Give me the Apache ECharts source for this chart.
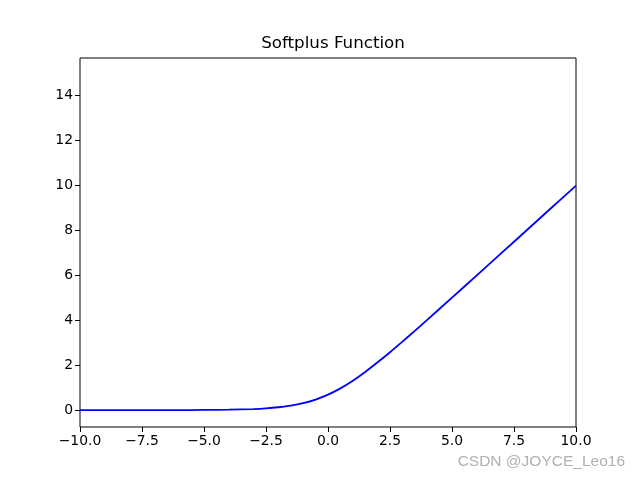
<!DOCTYPE html>
<html>
<head>
<meta charset="utf-8">
<script src="https://cdn.jsdelivr.net/npm/echarts@6/dist/echarts.min.js"></script>
<style>
  html, body { margin: 0; padding: 0; background: #fff; }
  #chart { width: 640px; height: 480px; }
</style>
</head>
<body>
<div id="chart"></div>
<script>
// values
const xs = [-10, -9, -8, -7, -6, -5, -4, -3, -2.5, -2, -1.5, -1, -0.5, 0, 0.5, 1, 1.5, 2, 2.5, 3, 3.5, 4, 5, 6, 7, 8, 9, 10]
const ys = [0.00, 0.00, 0.00, 0.00, 0.00, 0.01, 0.02, 0.05, 0.08, 0.13, 0.20, 0.31, 0.47, 0.69, 0.97, 1.31, 1.70, 2.13, 2.58, 3.05, 3.53, 4.02, 5.01, 6.00, 7.00, 8.00, 9.00, 10.00]
const xRange = [-10, 10]
const yRange = [-0.75, 15.68]
const titleText = 'Softplus Function'
const watermark = 'CSDN @JOYCE_Leo16'

const fmtX = v => (v < 0 ? '\u2212' : '') + Math.abs(v).toFixed(1)

let chart = echarts.init(document.getElementById('chart'))
let option = {
  animation: false,
  backgroundColor: '#fff',
  title: {
    text: titleText,
    left: 328,
    textAlign: 'center',
    top: 30,
    textStyle: { fontFamily: 'DejaVu Sans', fontSize: 16.7, fontWeight: 'normal', color: '#000' }
  },
  grid: {
    left: 80, right: 64, top: 58, bottom: 53,
    show: true, borderColor: '#000', borderWidth: 1, backgroundColor: '#fff'
  },
  xAxis: {
    type: 'value',
    min: xRange[0], max: xRange[1], interval: 2.5,
    axisLine: { show: false, onZero: false },
    axisTick: { show: true, inside: false, length: 5, lineStyle: { color: '#000' } },
    axisLabel: { formatter: fmtX, margin: 7, fontFamily: 'DejaVu Sans', fontSize: 13.9, color: '#000' },
    splitLine: { show: false }
  },
  yAxis: {
    type: 'value',
    min: yRange[0], max: yRange[1], splitNumber: 8,
    axisLine: { show: false, onZero: false },
    axisTick: { show: true, inside: false, length: 5, lineStyle: { color: '#000' } },
    axisLabel: { showMinLabel: false, showMaxLabel: false, margin: 7, fontFamily: 'DejaVu Sans', fontSize: 13.9, color: '#000' },
    splitLine: { show: false }
  },
  series: [{
    type: 'line',
    data: xs.map((x, i) => [x, ys[i]]),
    smooth: 0.3,
    showSymbol: false,
    lineStyle: { color: '#0000ff', width: 1.8 }
  }],
  graphic: [{
    type: 'text',
    right: 15,
    top: 454,
    style: { text: watermark, fontFamily: 'Liberation Sans', fontSize: 15.5, fill: '#b0b0b0' }
  }]
}
chart.setOption(option)
window.addEventListener('resize', () => chart.resize())
</script>
</body>
</html>
